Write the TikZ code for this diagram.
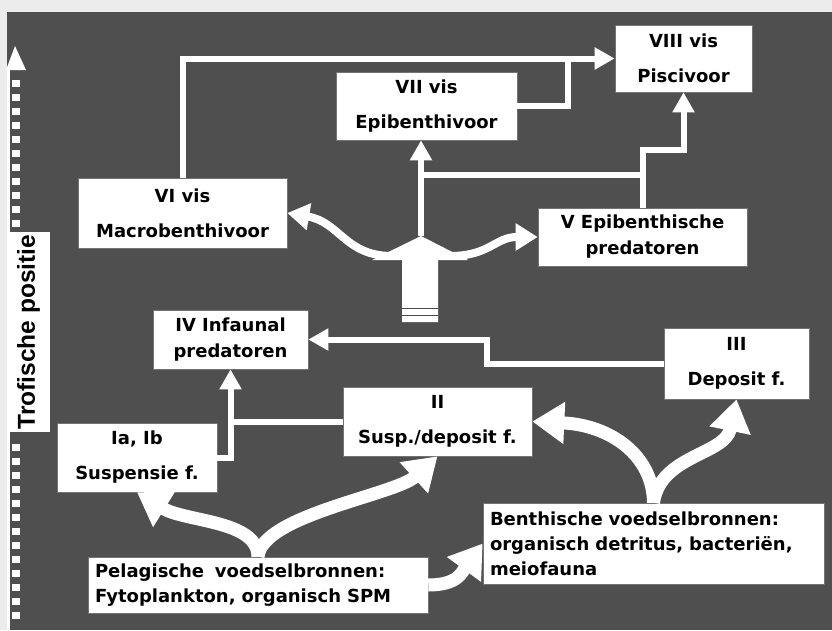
\documentclass[tikz,border=0pt]{standalone}
\usepackage{fontspec}
\setmainfont{DejaVu Sans}
\newfontfamily\labfont{Liberation Sans}
\usetikzlibrary{arrows.meta}
\definecolor{bg}{gray}{0.31}
\begin{document}
\begin{tikzpicture}[x=1pt,y=-1pt,
  box/.style={fill=white,draw=black!55,line width=0.6pt,inner sep=0pt,align=center,
    font=\fontsize{18}{35}\selectfont\bfseries},
  tight/.style={font=\fontsize{18}{26}\selectfont\bfseries},
  src/.style={align=left,inner xsep=7pt,font=\fontsize{18}{25}\selectfont\bfseries},
  conn/.style={draw=white,line width=6pt},
  tip/.style={-{Triangle[length=20pt,width=21pt]}},
  band/.style={draw=white,line width=13pt,-{Triangle[length=32pt,width=40pt]}},
  cband/.style={draw=white,line width=8pt,-{Triangle[length=22pt,width=26pt]}}]
\useasboundingbox (0,0) rectangle (832,630);
\fill[bg] (0,0) rectangle (832,630);
\fill[gray!15] (0,0) rectangle (832,12);
\fill[gray!15] (0,0) rectangle (7,630);
% trophic axis
\fill[white] (7,70) rectangle (9.5,630);
\foreach \yy in {80,94,...,220} {\fill[white] (11.5,\yy) rectangle (19.5,\yy+7);}
\foreach \yy in {444,458,...,612} {\fill[white] (11.5,\yy) rectangle (19.5,\yy+7);}
\fill[white] (15,46) -- (26,70) -- (6,70) -- cycle;
\node[fill=white,minimum width=200pt,minimum height=43pt,rotate=90,inner sep=0pt,
  font=\labfont\bfseries\fontsize{24.5}{30}\selectfont] (lab) at (28.5,332) {Trofische positie};
% boxes
\node[box,minimum width=137pt,minimum height=67pt] (VIII) at (683.5,58.5) {VIII vis\\Piscivoor};
\node[box,minimum width=181pt,minimum height=68pt] (VII) at (426.5,106) {VII vis\\Epibenthivoor};
\node[box,minimum width=209pt,minimum height=70pt] (VI) at (182.5,213) {VI vis\\Macrobenthivoor};
\node[box,tight,minimum width=209pt,minimum height=58pt] (V) at (642.5,237) {V Epibenthische\\predatoren};
\node[box,tight,minimum width=155pt,minimum height=59pt] (IV) at (230.5,339.5) {IV Infaunal\\predatoren};
\node[box,minimum width=145pt,minimum height=71pt] (III) at (736.5,363.5) {III\\Deposit f.};
\node[box,minimum width=189pt,minimum height=69pt] (II) at (437.5,421.5) {II\\Susp./deposit f.};
\node[box,minimum width=160pt,minimum height=69pt] (Ia) at (137,457.5) {Ia, Ib\\Suspensie f.};
\node[box,src,text width=326pt,minimum height=56pt] (Pel) at (258,585)
  {Pelagische\hspace{0.6em}voedselbronnen:\\Fytoplankton, organisch SPM};
\node[box,src,text width=327pt,minimum height=81pt] (Ben) at (653.5,543.5)
  {Benthische voedselbronnen:\\organisch detritus, bacteriën,\\meiofauna};
% upper connectors
\coordinate (j1) at (568,56);
\draw[conn,tip] (VI.north) |- (VIII.west);
\draw[conn] (VII.east) -| (j1);
% central arrow
\coordinate (hub) at (421,236);
\coordinate (hl) at (392,256);
\coordinate (hr) at (450,256);
\coordinate (b1) at (421,175);
\fill[white] (402,322) -- (402,260) -- (372,260) -- (hub) -- (468,260) -- (438,260) -- (438,322) -- cycle;
\draw[black!70,line width=0.8pt] (402,308) -- (438,308) (402,315) -- (438,315);
\draw[cband] (hl) .. controls (345,256) and (340,222) .. (VI.east);
\draw[cband] (hr) .. controls (490,256) and (495,237) .. (V.west);
\draw[conn,tip] (hub) -- (hub |- VII.south);
\draw[conn] (b1) -- (b1 -| V.north);
\draw[conn,tip] (V.north) -- ++(0,-58) -| (VIII.south);
% middle connectors
\draw[conn,tip] (III.west) -- ++(-177,0) |- (IV.east);
\draw[conn,tip] (Ia.east) -| (IV.south);
\draw[conn] (II.west) -- (II.west -| IV.south);
% bottom bands
\draw[band] (Pel.north) .. controls (258,520) and (185,522) .. (Ia.south);
\draw[band] (Pel.north) .. controls (262,515) and (395,495) .. (II.south);
\draw[band] (Pel.east) .. controls (458,585) and (462,572) .. (Ben.west);
\draw[band] (Ben.north) .. controls (653,455) and (610,425) .. (II.east);
\draw[band] (Ben.north) .. controls (660,455) and (725,455) .. (III.south);
\end{tikzpicture}
\end{document}
